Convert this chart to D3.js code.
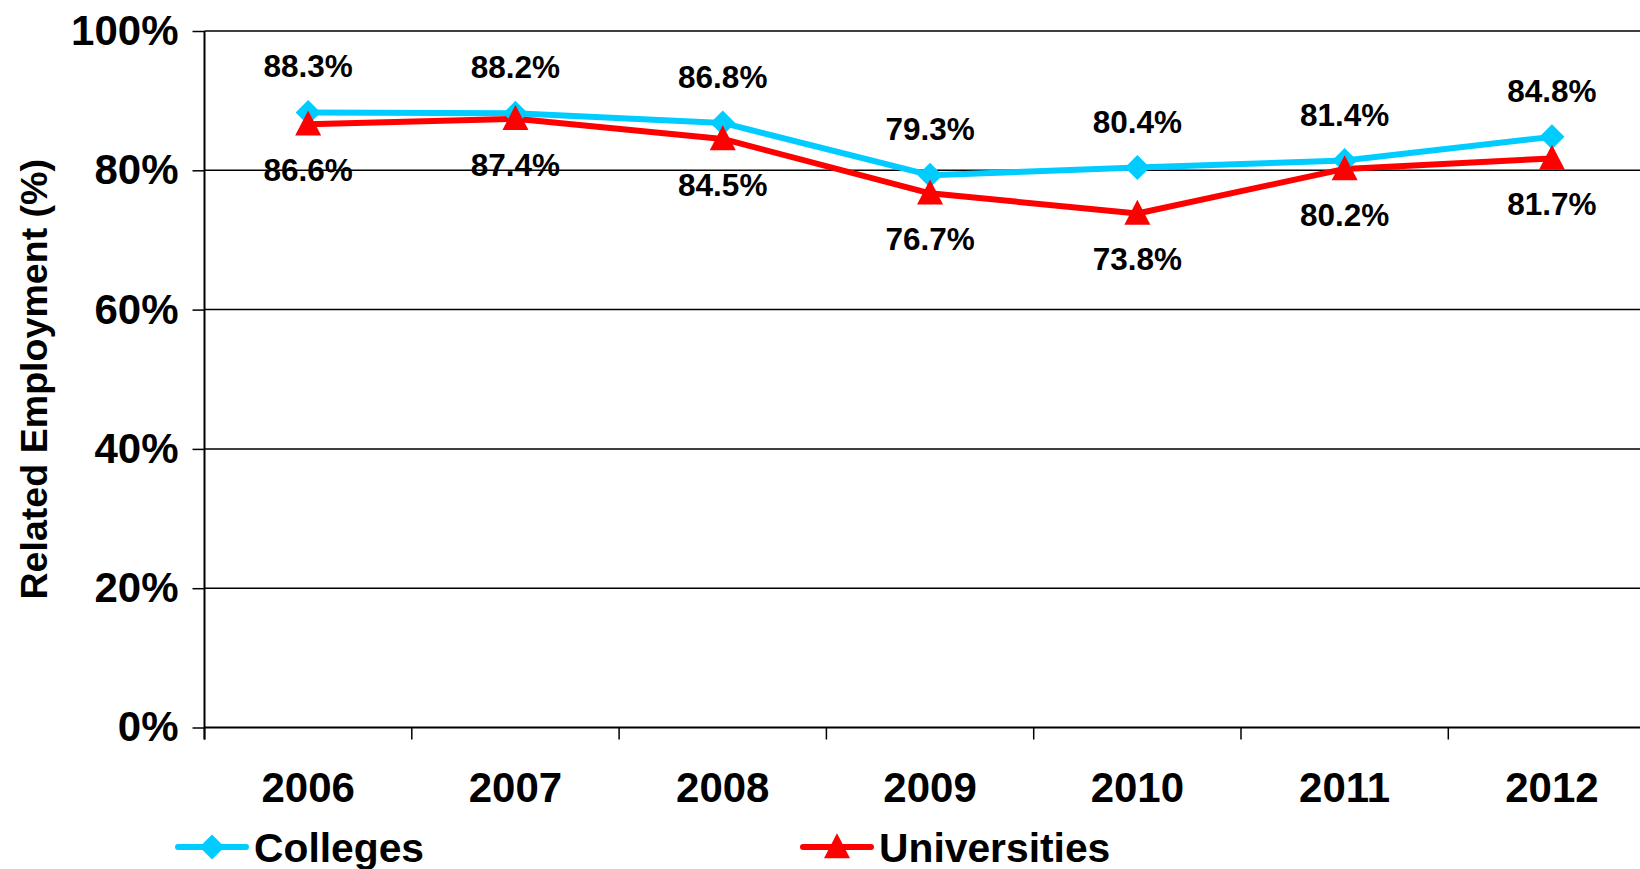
<!DOCTYPE html>
<html><head><meta charset="utf-8">
<script src="https://cdn.jsdelivr.net/npm/d3@7"></script>
<style>
html,body{margin:0;padding:0;background:#fff;overflow:hidden;}
svg{display:block;font-family:"Liberation Sans",Arial,sans-serif;font-weight:bold;}
</style></head>
<body>
<svg id="chart" width="1640" height="869"></svg>
<script>
const years = ["2006","2007","2008","2009","2010","2011","2012"];
const colleges = [88.3, 88.2, 86.8, 79.3, 80.4, 81.4, 84.8];
const universities = [86.6, 87.4, 84.5, 76.7, 73.8, 80.2, 81.7];
const yTicks = [0, 20, 40, 60, 80, 100];
const seriesNames = ["Colleges", "Universities"];
const seriesColors = ["#00CCFF", "#FF0000"];

(function(){
const svg = d3.select("#chart");
const pL = 204.5, pR = 204.5 + 7*207.3, pT = 31, pB = 727.5;

const x = d3.scaleBand().domain(years).range([pL, pR]);
const y = d3.scaleLinear().domain([0, 100]).range([pB, pT]);
const cx = d => x(d) + x.bandwidth()/2;

// gridlines
svg.append("g").selectAll("line").data(yTicks.filter(t => t > 0)).join("line")
  .attr("x1", pL).attr("x2", 1640)
  .attr("y1", d => y(d)).attr("y2", d => y(d))
  .attr("stroke", "#000").attr("stroke-width", 1.5);

// y axis
const yAxis = d3.axisLeft(y).tickValues(yTicks).tickSize(12).tickPadding(14)
  .tickFormat(d => d + "%");
const gy = svg.append("g").attr("transform", `translate(${pL},0)`).call(yAxis);
gy.select(".domain").attr("stroke", "#000").attr("stroke-width", 2).attr("d", `M0,${pB+12}V${pT}`);
gy.selectAll(".tick line").attr("stroke", "#000").attr("stroke-width", 1.5);
gy.selectAll(".tick text").attr("font-size", 42).attr("font-weight", "bold")
  .attr("font-family", '"Liberation Sans",Arial,sans-serif').attr("fill", "#000");

// x axis
const boundaries = years.map(d => x(d));
svg.append("line").attr("x1", pL).attr("x2", 1640).attr("y1", pB).attr("y2", pB)
  .attr("stroke", "#000").attr("stroke-width", 2);
svg.append("g").selectAll("line").data(boundaries).join("line")
  .attr("x1", d => d).attr("x2", d => d).attr("y1", pB).attr("y2", pB + 12)
  .attr("stroke", "#000").attr("stroke-width", 1.5);
svg.append("g").selectAll("text").data(years).join("text")
  .attr("x", d => cx(d)).attr("y", 802)
  .attr("text-anchor", "middle").attr("font-size", 42).text(d => d);

// y title
svg.append("text").attr("transform", `translate(47,${(pT+pB)/2}) rotate(-90)`)
  .attr("text-anchor", "middle").attr("font-size", 37.6).text("Related Employment (%)");

const line = d3.line().x((d, i) => cx(years[i])).y(d => y(d));

// series lines
[colleges, universities].forEach((s, k) => {
  svg.append("path").datum(s).attr("d", line).attr("fill", "none")
    .attr("stroke", seriesColors[k]).attr("stroke-width", 6).attr("stroke-linejoin", "round");
});

// markers
function diamondPath(r){ return `M0,${-r}L${r},0L0,${r}L${-r},0Z`; }
function triPath(w, h){ return `M0,${-h*0.55}L${w/2},${h*0.45}L${-w/2},${h*0.45}Z`; }
svg.append("g").selectAll("path").data(colleges).join("path")
  .attr("transform", (d, i) => `translate(${cx(years[i])},${y(d)})`)
  .attr("d", diamondPath(12.5)).attr("fill", seriesColors[0]);
svg.append("g").selectAll("path").data(universities).join("path")
  .attr("transform", (d, i) => `translate(${cx(years[i])},${y(d)})`)
  .attr("d", triPath(26, 25)).attr("fill", seriesColors[1]);

// data labels
svg.append("g").selectAll("text").data(colleges).join("text")
  .attr("x", (d, i) => cx(years[i])).attr("y", d => y(d) - 35)
  .attr("text-anchor", "middle").attr("font-size", 31.5).text(d => d.toFixed(1) + "%");
svg.append("g").selectAll("text").data(universities).join("text")
  .attr("x", (d, i) => cx(years[i])).attr("y", d => y(d) + 57)
  .attr("text-anchor", "middle").attr("font-size", 31.5).text(d => d.toFixed(1) + "%");

// legend
const legendX = [178, 803];
const legendY = 847;
seriesNames.forEach((name, k) => {
  const g = svg.append("g");
  g.append("line").attr("x1", legendX[k]).attr("x2", legendX[k] + 68)
    .attr("y1", legendY).attr("y2", legendY)
    .attr("stroke", seriesColors[k]).attr("stroke-width", 6).attr("stroke-linecap", "round");
  g.append("path").attr("transform", `translate(${legendX[k] + 34},${legendY})`)
    .attr("d", k === 0 ? diamondPath(12.5) : triPath(26, 25)).attr("fill", seriesColors[k]);
  g.append("text").attr("x", legendX[k] + 76).attr("y", 862)
    .attr("font-size", 40.8).text(name);
});
})();
</script>
</body></html>
